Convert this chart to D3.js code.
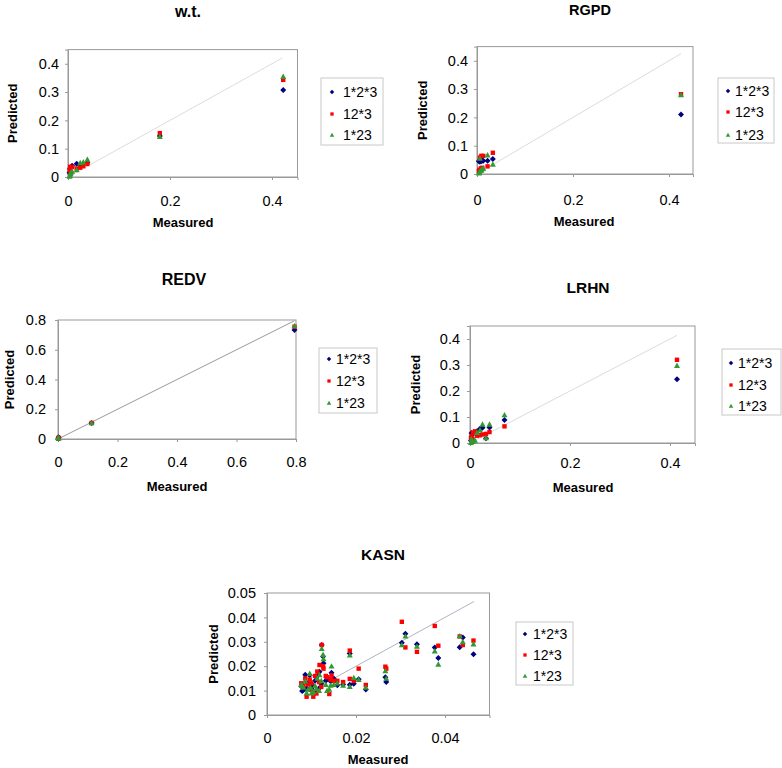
<!DOCTYPE html>
<html><head><meta charset="utf-8">
<script src="https://cdn.jsdelivr.net/npm/d3@7"></script>
<style>
body{margin:0;background:#fff}
svg{display:block}
text{font-family:"Liberation Sans",Arial,Helvetica,sans-serif;fill:#000}
</style>
</head><body>
<svg id="c" width="782" height="768"></svg>
<script>
// ---------- DATA ----------
const seriesNames = ["1*2*3", "12*3", "1*23"];

// w.t.
const wtMeasured = [0.422, 0.180, 0.038, 0.030, 0.024, 0.017, 0.008, 0.004, 0.003, 0.005];
const wtPred123  = [0.307, 0.145, 0.050, 0.046, 0.044, 0.047, 0.040, 0.030, 0.015, 0.010];
const wtPred12_3 = [0.343, 0.155, 0.046, 0.038, 0.033, 0.030, 0.035, 0.036, 0.025, 0.012];
const wtPred1_23 = [0.355, 0.143, 0.062, 0.053, 0.050, 0.025, 0.020, 0.008, 0.002, 0.015];
const wtXTicks = [0, 0.2, 0.4];
const wtYTicks = [0, 0.1, 0.2, 0.3, 0.4];

// RGPD
const rgMeasured = [0.425, 0.033, 0.022, 0.013, 0.009, 0.006, 0.005, 0.004, 0.008, 0.011];
const rgPred123  = [0.210, 0.053, 0.047, 0.047, 0.045, 0.043, 0.048, 0.045, 0.050, 0.048];
const rgPred12_3 = [0.282, 0.075, 0.027, 0.064, 0.064, 0.058, 0.015, 0.010, 0.020, 0.022];
const rgPred1_23 = [0.280, 0.034, 0.067, 0.020, 0.015, 0.055, 0.008, 0.003, 0.012, 0.018];
const rgXTicks = [0, 0.2, 0.4];
const rgYTicks = [0, 0.1, 0.2, 0.3, 0.4];

// REDV
const reMeasured = [0.795, 0.113, 0.002, 0.001];
const rePred123  = [0.733, 0.107, 0.012, 0.003];
const rePred12_3 = [0.755, 0.108, 0.008, 0.002];
const rePred1_23 = [0.760, 0.108, 0.005, 0.010];
const reXTicks = [0, 0.2, 0.4, 0.6, 0.8];
const reYTicks = [0, 0.2, 0.4, 0.6, 0.8];

// LRHN
const lrMeasured = [0.414, 0.069, 0.039, 0.032, 0.025, 0.020, 0.014, 0.010, 0.006, 0.003, 0.002, 0.005];
const lrPred123  = [0.245, 0.088, 0.060, 0.018, 0.059, 0.055, 0.045, 0.040, 0.035, 0.038, 0.010, 0.012];
const lrPred12_3 = [0.320, 0.064, 0.042, 0.035, 0.033, 0.030, 0.028, 0.045, 0.040, 0.025, 0.020, 0.015];
const lrPred1_23 = [0.298, 0.108, 0.072, 0.020, 0.072, 0.050, 0.040, 0.010, 0.005, 0.015, 0.002, 0.008];
const lrXTicks = [0, 0.2, 0.4];
const lrYTicks = [0, 0.1, 0.2, 0.3, 0.4];

// KASN
const kaMeasured = [0.0303, 0.0311, 0.0337, 0.0377, 0.0385, 0.0433, 0.0440, 0.0464,
  0.0266, 0.0268, 0.0222, 0.0206, 0.0195, 0.0186, 0.0186, 0.0171, 0.0158,
  0.0123, 0.0126, 0.0127, 0.0145, 0.0140, 0.0143, 0.0118, 0.0113, 0.0108, 0.0104,
  0.0100, 0.0096, 0.0092, 0.0089, 0.0086, 0.0082, 0.0079, 0.0077, 0.0117, 0.0122,
  0.0132, 0.0135, 0.0150, 0.0111, 0.0098];
const kaPred123  = [0.0296, 0.0333, 0.0290, 0.0277, 0.0234, 0.0278, 0.0318, 0.0249,
  0.0155, 0.0135, 0.0105, 0.0147, 0.0128, 0.0252, 0.0124, 0.0125, 0.0122,
  0.0287, 0.0240, 0.0212, 0.0173, 0.0145, 0.0138, 0.0177, 0.0160, 0.0140, 0.0120,
  0.0108, 0.0163, 0.0130, 0.0110, 0.0165, 0.0102, 0.0098, 0.0118, 0.0110, 0.0128,
  0.0140, 0.0148, 0.0150, 0.0100, 0.0125];
const kaPred12_3 = [0.0382, 0.0277, 0.0259, 0.0365, 0.0284, 0.0322, 0.0287, 0.0305,
  0.0198, 0.0190, 0.0123, 0.0190, 0.0140, 0.0264, 0.0148, 0.0135, 0.0140,
  0.0287, 0.0200, 0.0190, 0.0162, 0.0086, 0.0145, 0.0205, 0.0178, 0.0160, 0.0075,
  0.0130, 0.0145, 0.0125, 0.0075, 0.0150, 0.0120, 0.0125, 0.0130, 0.0135, 0.0115,
  0.0160, 0.0155, 0.0140, 0.0088, 0.0103];
const kaPred1_23 = [0.0287, 0.0323, 0.0281, 0.0262, 0.0208, 0.0324, 0.0300, 0.0291,
  0.0181, 0.0150, 0.0113, 0.0145, 0.0153, 0.0245, 0.0116, 0.0122, 0.0131,
  0.0272, 0.0248, 0.0230, 0.0200, 0.0105, 0.0122, 0.0165, 0.0150, 0.0120, 0.0095,
  0.0090, 0.0170, 0.0105, 0.0090, 0.0140, 0.0113, 0.0120, 0.0125, 0.0100, 0.0140,
  0.0125, 0.0100, 0.0125, 0.0108, 0.0112];
const kaXTicks = [0, 0.02, 0.04];
const kaYTicks = [0, 0.01, 0.02, 0.03, 0.04, 0.05];

// ---------- LAYOUT / STYLE ----------
const seriesStyle = [
  {color: "#000080", shape: "diamond"},
  {color: "#ff0000", shape: "square"},
  {color: "#339933", shape: "triangle"}
];
const shapes = {
  diamond: s => `M0,${-3*s}L${3*s},0L0,${3*s}L${-3*s},0Z`,
  square: s => `M${-2.2*s},${-2.2*s}h${4.4*s}v${4.4*s}h${-4.4*s}Z`,
  triangle: s => `M0,${-3*s}L${3*s},${2.4*s}L${-3*s},${2.4*s}Z`
};

const panels = [
  {title: "w.t.", tx: 188, ty: 17, ts: 16,
   xr: [68, 297.5], yr: [177, 49.6], xd: [0, 0.45], yd: [0, 0.45],
   xTicks: wtXTicks, yTicks: wtYTicks, xPad: 16, yPad: 6,
   ylx: 12, xlx: 183, xly: 227,
   line: [0, 0.42], lineColor: "#dcdcdc",
   leg: {x: 321, y: 78, w: 62, h: 67, mx: 332, tx: 343, rows: [92, 114, 135]},
   m: wtMeasured, p: [wtPred123, wtPred12_3, wtPred1_23]},
  {title: "RGPD", tx: 590, ty: 15, ts: 14.5,
   xr: [477, 693], yr: [174, 46.6], xd: [0, 0.45], yd: [0, 0.45],
   xTicks: rgXTicks, yTicks: rgYTicks, xPad: 18, yPad: 6,
   ylx: 422, xlx: 584, xly: 226,
   line: [0, 0.425], lineColor: "#dcdcdc",
   leg: {x: 718, y: 78, w: 56, h: 65, mx: 728, tx: 735, rows: [91, 112, 135]},
   m: rgMeasured, p: [rgPred123, rgPred12_3, rgPred1_23]},
  {title: "REDV", tx: 184, ty: 285, ts: 16,
   xr: [58, 296], yr: [439, 320], xd: [0, 0.8], yd: [0, 0.8],
   xTicks: reXTicks, yTicks: reYTicks, xPad: 15, yPad: 9,
   ylx: 9, xlx: 177, xly: 491,
   line: [0, 0.795], lineColor: "#999999",
   leg: {x: 319, y: 348, w: 58, h: 65, mx: 329, tx: 336, rows: [359, 381, 403]},
   m: reMeasured, p: [rePred123, rePred12_3, rePred1_23]},
  {title: "LRHN", tx: 588, ty: 293, ts: 15.5,
   xr: [470, 695], yr: [443, 326], xd: [0, 0.45], yd: [0, 0.45],
   xTicks: lrXTicks, yTicks: lrYTicks, xPad: 12, yPad: 7,
   ylx: 415, xlx: 583, xly: 492,
   line: [0, 0.414], lineColor: "#dcdcdc",
   leg: {x: 722, y: 349, w: 59, h: 66, mx: 731, tx: 738, rows: [363, 385, 406]},
   m: lrMeasured, p: [lrPred123, lrPred12_3, lrPred1_23]},
  {title: "KASN", tx: 383, ty: 560, ts: 15.5,
   xr: [267, 489.5], yr: [715, 593], xd: [0, 0.05], yd: [0, 0.05],
   xTicks: kaXTicks, yTicks: kaYTicks, xPad: 15, yPad: 8,
   ylx: 213, xlx: 378, xly: 764,
   line: [0.0146, 0.0465], lineColor: "#b0b4c4",
   leg: {x: 516, y: 622, w: 57, h: 63, mx: 525, tx: 533, rows: [634, 655, 676]},
   m: kaMeasured, p: [kaPred123, kaPred12_3, kaPred1_23]}
];

const svg = d3.select("#c");
const fmt = d => d === 0 ? "0" : String(+d.toFixed(4));

panels.forEach(P => {
  const g = svg.append("g");
  const x = d3.scaleLinear().domain(P.xd).range(P.xr);
  const y = d3.scaleLinear().domain(P.yd).range(P.yr);

  // plot frame
  g.append("rect")
    .attr("x", P.xr[0]).attr("y", P.yr[1])
    .attr("width", P.xr[1] - P.xr[0]).attr("height", P.yr[0] - P.yr[1])
    .attr("fill", "#fff").attr("stroke", "#999").attr("stroke-width", 1);

  // axes
  const ya = g.append("g").attr("transform", `translate(${P.xr[0]},0)`)
    .call(d3.axisLeft(y).tickValues(P.yTicks).tickFormat(fmt).tickSize(3).tickPadding(P.yPad));
  const xa = g.append("g").attr("transform", `translate(0,${P.yr[0]})`)
    .call(d3.axisBottom(x).tickValues(P.xTicks).tickFormat(fmt).tickSize(3).tickPadding(P.xPad));
  [ya, xa].forEach(a => {
    a.select(".domain").attr("stroke", "#999");
    a.selectAll(".tick line").attr("stroke", "#999");
    a.selectAll(".tick text").attr("font-size", 14.5)
      .attr("font-family", '"Liberation Sans",Arial,sans-serif').attr("fill", "#000");
  });

  // diagonal reference line
  g.append("line")
    .attr("x1", x(P.line[0])).attr("y1", y(P.line[0]))
    .attr("x2", x(P.line[1])).attr("y2", y(P.line[1]))
    .attr("stroke", P.lineColor).attr("stroke-width", 1);

  // points
  P.p.forEach((pred, si) => {
    const st = seriesStyle[si];
    g.append("g").selectAll("path").data(P.m.map((mv, i) => [mv, pred[i]]))
      .join("path")
      .attr("transform", d => `translate(${x(d[0])},${y(d[1])})`)
      .attr("d", shapes[st.shape](1))
      .attr("fill", st.color);
  });

  // title
  g.append("text").attr("x", P.tx).attr("y", P.ty)
    .attr("text-anchor", "middle").attr("font-weight", "bold").attr("font-size", P.ts)
    .text(P.title);
  // axis titles
  g.append("text").attr("x", P.xlx).attr("y", P.xly)
    .attr("text-anchor", "middle").attr("font-weight", "bold").attr("font-size", 13)
    .text("Measured");
  g.append("text")
    .attr("transform", `translate(${P.ylx},${(P.yr[0] + P.yr[1]) / 2}) rotate(-90)`)
    .attr("text-anchor", "middle").attr("dominant-baseline", "central")
    .attr("font-weight", "bold").attr("font-size", 13)
    .text("Predicted");

  // legend
  const L = P.leg;
  g.append("rect").attr("x", L.x).attr("y", L.y).attr("width", L.w).attr("height", L.h)
    .attr("fill", "#fff").attr("stroke", "#c8c8c8").attr("stroke-width", 1);
  seriesNames.forEach((name, si) => {
    const st = seriesStyle[si];
    g.append("path").attr("transform", `translate(${L.mx},${L.rows[si]})`)
      .attr("d", shapes[st.shape](0.75)).attr("fill", st.color);
    g.append("text").attr("x", L.tx).attr("y", L.rows[si])
      .attr("dominant-baseline", "central").attr("font-size", 14)
      .text(name);
  });
});
</script>
</body></html>
